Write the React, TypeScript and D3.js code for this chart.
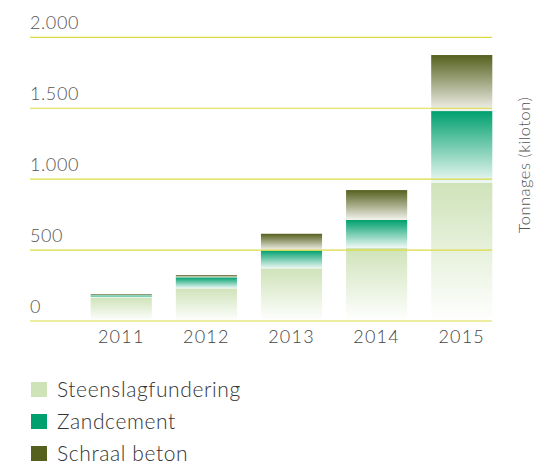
import React from "react";
import * as d3 from "d3";

const years = ["2011", "2012", "2013", "2014", "2015"];
const steenslag = [165, 230, 371, 517, 975];
const zandcement = [16, 78, 127, 195, 505];
const schraalBeton = [9, 16, 117, 211, 395];
const yTicks = [0, 500, 1000, 1500, 2000];
const tickLabels = ["0", "500", "1.000", "1.500", "2.000"];
const seriesNames = ["Steenslagfundering", "Zandcement", "Schraal beton"];
const seriesKeys = ["steenslag", "zand", "schraal"];
const topColors = ["#cfe3b9", "#00a06e", "#56601e"];
const bottomColors = ["#ffffff", "#eef8f4", "#f4f4ee"];

const W = 541;
const H = 466;
const FONT = "Lato, 'Open Sans', sans-serif";

export default function App() {
  const rows = years.map((y, i) => ({
    year: y,
    steenslag: steenslag[i],
    zand: zandcement[i],
    schraal: schraalBeton[i],
  }));
  const stacked = d3.stack<any>().keys(seriesKeys)(rows);

  const x = d3
    .scaleBand<string>()
    .domain(years)
    .range([90.7, 492.3])
    .paddingInner(0.282)
    .paddingOuter(0);
  const y = d3.scaleLinear().domain([0, 2000]).range([321, 37.3]);

  return (
    <svg
      width={W}
      height={H}
      style={{ position: "absolute", left: 0, top: 0, background: "#fff" }}
      fontFamily={FONT}
    >
      <defs>
        {seriesKeys.map((k, i) => (
          <linearGradient key={k} id={`g-${k}`} x1="0" y1="0" x2="0" y2="1">
            <stop offset="0" stopColor={topColors[i]} />
            <stop offset="1" stopColor={bottomColors[i]} />
          </linearGradient>
        ))}
      </defs>

      {stacked.map((s, si) => (
        <g key={s.key}>
          {s.map((d, i) => (
            <rect
              key={i}
              x={x(years[i])}
              width={x.bandwidth()}
              y={y(d[1])}
              height={Math.max(0, y(d[0]) - y(d[1]))}
              fill={`url(#g-${seriesKeys[si]})`}
            />
          ))}
        </g>
      ))}

      {yTicks.map((t, i) => (
        <g key={t}>
          <line x1={30} x2={492} y1={y(t)} y2={y(t)} stroke="#dcdb42" strokeWidth={1.2} />
          <text x={30} y={y(t) - 8.3} fontSize={18} fontWeight={300} letterSpacing={0.6} fill="#555">
            {tickLabels[i]}
          </text>
        </g>
      ))}

      {years.map((yr) => (
        <text
          key={yr}
          x={(x(yr) as number) + x.bandwidth() / 2}
          y={343}
          textAnchor="middle"
          fontSize={18}
          fontWeight={300}
          letterSpacing={1.2}
          fill="#444"
        >
          {yr}
        </text>
      ))}

      <text
        transform={`translate(530,165) rotate(-90)`}
        textAnchor="middle"
        fontSize={16.5}
        fontWeight={300}
        letterSpacing={0.5}
        fill="#555"
      >
        Tonnages (kiloton)
      </text>

      {seriesNames.map((n, i) => (
        <g key={n} transform={`translate(31,${382 + i * 32})`}>
          <rect x={0} y={0} width={16} height={15} fill={topColors[i]} />
          <text x={26} y={14.5} fontSize={21} fontWeight={300} letterSpacing={0.6} fill="#333">
            {n}
          </text>
        </g>
      ))}
    </svg>
  );
}
